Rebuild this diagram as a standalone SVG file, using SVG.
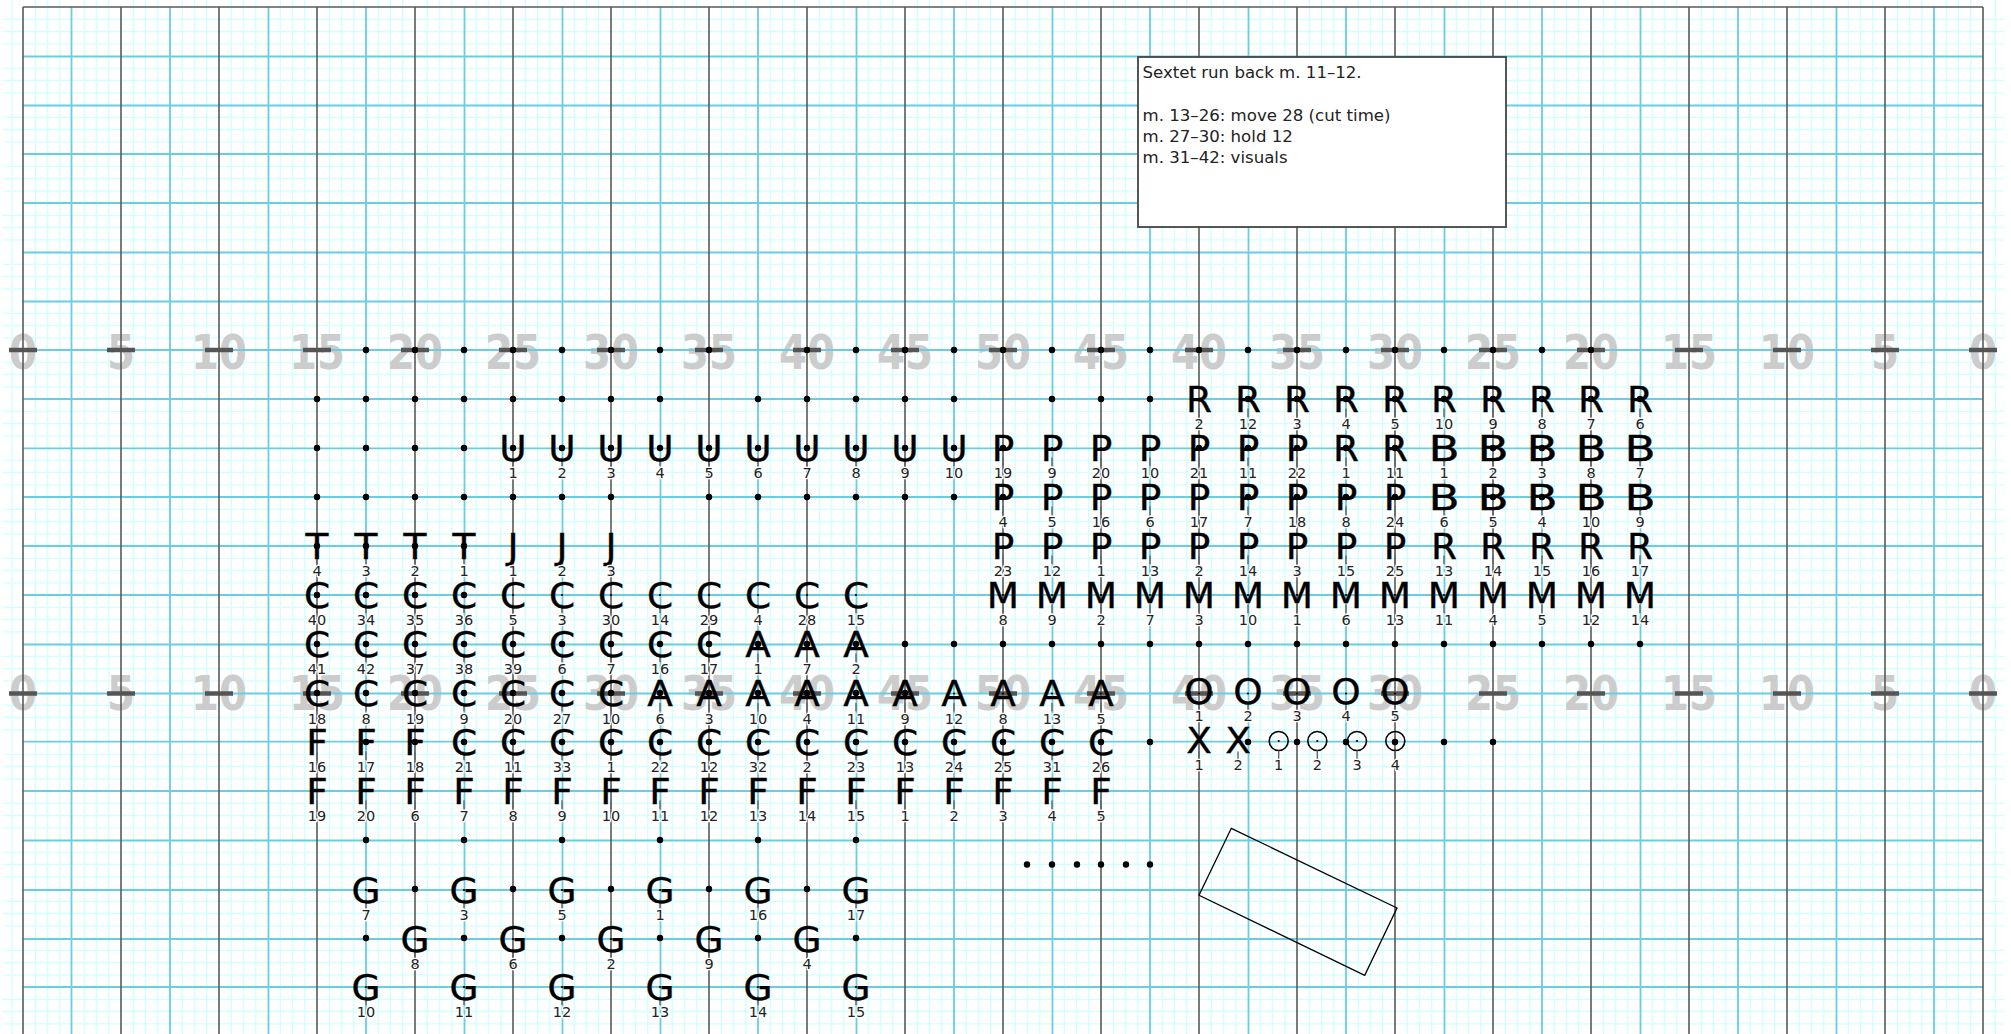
<svg xmlns="http://www.w3.org/2000/svg" width="2011" height="1034" viewBox="0 0 2011 1034">
<style>
text{font-family:"DejaVu Sans",sans-serif}
.y{font-weight:700;font-size:48px;fill:#ccc;text-anchor:middle}
.l{font-size:35px;fill:#000;text-anchor:middle;stroke:#000;stroke-width:.35px;transform:translateY(-.5px) scale(1.07,1)}
.b{transform:translateY(-.5px) scale(1.3,1)}
.n{font-size:14.5px;fill:#222;text-anchor:middle;stroke:#fff;stroke-width:2.5px;paint-order:stroke;transform:translateY(-.7px)}
.t{font-size:16.6px;fill:#222}
.dots{fill:none;stroke:#000;stroke-width:6.4;stroke-linecap:round}
.stub{stroke:#666;stroke-width:1.4}
</style>
<defs>
<g id="p"><path class="stub" d="M0 9.5V18"/><circle r="1.1" fill="#000"/></g>
</defs>
<rect width="2011" height="1034" fill="#fff"/>
<g id="grid" fill="none">
<path id="minor" stroke="#d2ffff" stroke-width="1.3" d="M3 19.3H2004M3 31.5H2004M3 43.8H2004M3 68.3H2004M3 80.5H2004M3 92.8H2004M3 117.3H2004M3 129.5H2004M3 141.8H2004M3 166.3H2004M3 178.5H2004M3 190.8H2004M3 215.3H2004M3 227.5H2004M3 239.8H2004M3 264.3H2004M3 276.5H2004M3 288.8H2004M3 313.3H2004M3 325.5H2004M3 337.8H2004M3 362.3H2004M3 374.5H2004M3 386.8H2004M3 411.3H2004M3 423.5H2004M3 435.8H2004M3 460.3H2004M3 472.5H2004M3 484.8H2004M3 509.3H2004M3 521.5H2004M3 533.8H2004M3 558.3H2004M3 570.5H2004M3 582.8H2004M3 607.3H2004M3 619.5H2004M3 631.8H2004M3 656.3H2004M3 668.5H2004M3 680.8H2004M3 705.3H2004M3 717.5H2004M3 729.8H2004M3 754.3H2004M3 766.5H2004M3 778.8H2004M3 803.3H2004M3 815.5H2004M3 827.8H2004M3 852.3H2004M3 864.5H2004M3 876.8H2004M3 901.3H2004M3 913.5H2004M3 925.8H2004M3 950.3H2004M3 962.5H2004M3 974.8H2004M3 999.3H2004M3 1011.5H2004M3 1023.8H2004M12 0V1034M35.3 0V1034M47.5 0V1034M59.8 0V1034M84.3 0V1034M96.5 0V1034M108.8 0V1034M133.3 0V1034M145.5 0V1034M157.8 0V1034M182.3 0V1034M194.5 0V1034M206.8 0V1034M231.3 0V1034M243.5 0V1034M255.8 0V1034M280.3 0V1034M292.5 0V1034M304.8 0V1034M329.3 0V1034M341.5 0V1034M353.8 0V1034M378.3 0V1034M390.5 0V1034M402.8 0V1034M427.3 0V1034M439.5 0V1034M451.8 0V1034M476.3 0V1034M488.5 0V1034M500.8 0V1034M525.3 0V1034M537.5 0V1034M549.8 0V1034M574.3 0V1034M586.5 0V1034M598.8 0V1034M623.3 0V1034M635.5 0V1034M647.8 0V1034M672.3 0V1034M684.5 0V1034M696.8 0V1034M721.3 0V1034M733.5 0V1034M745.8 0V1034M770.3 0V1034M782.5 0V1034M794.8 0V1034M819.3 0V1034M831.5 0V1034M843.8 0V1034M868.3 0V1034M880.5 0V1034M892.8 0V1034M917.3 0V1034M929.5 0V1034M941.8 0V1034M966.3 0V1034M978.5 0V1034M990.8 0V1034M1015.3 0V1034M1027.5 0V1034M1039.8 0V1034M1064.3 0V1034M1076.5 0V1034M1088.8 0V1034M1113.3 0V1034M1125.5 0V1034M1137.8 0V1034M1162.3 0V1034M1174.5 0V1034M1186.8 0V1034M1211.3 0V1034M1223.5 0V1034M1235.8 0V1034M1260.3 0V1034M1272.5 0V1034M1284.8 0V1034M1309.3 0V1034M1321.5 0V1034M1333.8 0V1034M1358.3 0V1034M1370.5 0V1034M1382.8 0V1034M1407.3 0V1034M1419.5 0V1034M1431.8 0V1034M1456.3 0V1034M1468.5 0V1034M1480.8 0V1034M1505.3 0V1034M1517.5 0V1034M1529.8 0V1034M1554.3 0V1034M1566.5 0V1034M1578.8 0V1034M1603.3 0V1034M1615.5 0V1034M1627.8 0V1034M1652.3 0V1034M1664.5 0V1034M1676.8 0V1034M1701.3 0V1034M1713.5 0V1034M1725.8 0V1034M1750.3 0V1034M1762.5 0V1034M1774.8 0V1034M1799.3 0V1034M1811.5 0V1034M1823.8 0V1034M1848.3 0V1034M1860.5 0V1034M1872.8 0V1034M1897.3 0V1034M1909.5 0V1034M1921.8 0V1034M1946.3 0V1034M1958.5 0V1034M1970.8 0V1034M1995.3 0V1034"/>
<g id="yards" transform="scale(.84,1)">
<text class="y" x="27.38" y="369.5">0</text><text class="y" x="144.05" y="369.5">5</text><text class="y" x="260.71" y="369.5">10</text><text class="y" x="377.38" y="369.5">15</text><text class="y" x="494.05" y="369.5">20</text><text class="y" x="610.71" y="369.5">25</text><text class="y" x="727.38" y="369.5">30</text><text class="y" x="844.05" y="369.5">35</text><text class="y" x="960.71" y="369.5">40</text><text class="y" x="1077.38" y="369.5">45</text><text class="y" x="1194.05" y="369.5">50</text><text class="y" x="1310.71" y="369.5">45</text><text class="y" x="1427.38" y="369.5">40</text><text class="y" x="1544.05" y="369.5">35</text><text class="y" x="1660.71" y="369.5">30</text><text class="y" x="1777.38" y="369.5">25</text><text class="y" x="1894.05" y="369.5">20</text><text class="y" x="2010.71" y="369.5">15</text><text class="y" x="2127.38" y="369.5">10</text><text class="y" x="2244.05" y="369.5">5</text><text class="y" x="2360.71" y="369.5">0</text>
<text class="y" x="27.38" y="710.5">0</text><text class="y" x="144.05" y="710.5">5</text><text class="y" x="260.71" y="710.5">10</text><text class="y" x="377.38" y="710.5">15</text><text class="y" x="494.05" y="710.5">20</text><text class="y" x="610.71" y="710.5">25</text><text class="y" x="727.38" y="710.5">30</text><text class="y" x="844.05" y="710.5">35</text><text class="y" x="960.71" y="710.5">40</text><text class="y" x="1077.38" y="710.5">45</text><text class="y" x="1194.05" y="710.5">50</text><text class="y" x="1310.71" y="710.5">45</text><text class="y" x="1427.38" y="710.5">40</text><text class="y" x="1544.05" y="710.5">35</text><text class="y" x="1660.71" y="710.5">30</text><text class="y" x="1777.38" y="710.5">25</text><text class="y" x="1894.05" y="710.5">20</text><text class="y" x="2010.71" y="710.5">15</text><text class="y" x="2127.38" y="710.5">10</text><text class="y" x="2244.05" y="710.5">5</text><text class="y" x="2360.71" y="710.5">0</text>
</g>
<path id="blue" stroke="#69cde4" stroke-width="1.8" d="M23 56.5H1983M23 105.5H1983M23 154H1983M23 203H1983M23 252.5H1983M23 301.5H1983M23 350H1983M23 399H1983M23 448.3H1983M23 497H1983M23 546H1983M23 595H1983M23 644.5H1983M23 693.5H1983M23 741.7H1983M23 791H1983M23 840.5H1983M23 890H1983M23 939H1983M23 987H1983M71.5 7V1034M170 7V1034M268.5 7V1034M366 7V1034M464.5 7V1034M562.5 7V1034M660.5 7V1034M758 7V1034M856.5 7V1034M954 7V1034M1052.5 7V1034M1150 7V1034M1248.5 7V1034M1346 7V1034M1444.5 7V1034M1542 7V1034M1640.5 7V1034M1738 7V1034M1836.5 7V1034M1934 7V1034"/>
<path id="major" stroke="#5a5a5a" stroke-width="1.6" d="M23 7H1983M23 7V1034M121 7V1034M219 7V1034M317 7V1034M415 7V1034M513 7V1034M611 7V1034M709 7V1034M807 7V1034M905 7V1034M1003 7V1034M1101 7V1034M1199 7V1034M1297 7V1034M1395 7V1034M1493 7V1034M1591 7V1034M1689 7V1034M1787 7V1034M1885 7V1034M1983 7V1034"/>
<path id="ticks" stroke="#555" stroke-width="4.4" d="M9 350H37M107 350H135M205 350H233M303 350H331M401 350H429M499 350H527M597 350H625M695 350H723M793 350H821M891 350H919M989 350H1017M1087 350H1115M1185 350H1213M1283 350H1311M1381 350H1409M1479 350H1507M1577 350H1605M1675 350H1703M1773 350H1801M1871 350H1899M1969 350H1997M9 693.5H37M107 693.5H135M205 693.5H233M303 693.5H331M401 693.5H429M499 693.5H527M597 693.5H625M695 693.5H723M793 693.5H821M891 693.5H919M989 693.5H1017M1087 693.5H1115M1185 693.5H1213M1283 693.5H1311M1381 693.5H1409M1479 693.5H1507M1577 693.5H1605M1675 693.5H1703M1773 693.5H1801M1871 693.5H1899M1969 693.5H1997"/>
</g>
<g id="note">
<rect x="1138" y="57" width="368" height="170" fill="#fff" stroke="#444" stroke-width="1.8"/>
<text class="t" x="1142.5" y="78">Sextet run back m. 11–12.</text>
<text class="t" x="1142.5" y="121">m. 13–26: move 28 (cut time)</text>
<text class="t" x="1142.5" y="142">m. 27–30: hold 12</text>
<text class="t" x="1142.5" y="163">m. 31–42: visuals</text>
</g>
<path id="dots" class="dots" d="M366 350h0M415 350h0M464 350h0M513 350h0M562 350h0M611 350h0M660 350h0M709 350h0M807 350h0M856 350h0M905 350h0M954 350h0M1003 350h0M1052 350h0M1101 350h0M1150 350h0M1199 350h0M1248 350h0M1297 350h0M1346 350h0M1395 350h0M1444 350h0M1493 350h0M1542 350h0M1591 350h0
M317 399h0M366 399h0M415 399h0M464 399h0M513 399h0M562 399h0M611 399h0M660 399h0M758 399h0M807 399h0M856 399h0M905 399h0M954 399h0M1052 399h0M1101 399h0M1150 399h0M1248 399h0M1297 399h0M1346 399h0M1395 399h0M1444 399h0M1493 399h0M1542 399h0M1591 399h0M1640 399h0
M317 448h0M366 448h0M415 448h0M464 448h0M513 448h0M562 448h0M611 448h0M660 448h0M709 448h0M758 448h0M807 448h0M856 448h0M905 448h0M954 448h0M1003 448h0M1199 448h0M1248 448h0M1297 448h0M1346 448h0M1395 448h0M1493 448h0M1542 448h0
M317 497h0M366 497h0M415 497h0M464 497h0M513 497h0M562 497h0M611 497h0M709 497h0M758 497h0M807 497h0M856 497h0M905 497h0M954 497h0M1003 497h0M1248 497h0M1297 497h0M1346 497h0M1395 497h0M1493 497h0M1542 497h0
M317 546h0M366 546h0M415 546h0M464 546h0
M317 595h0M366 595h0M415 595h0M464 595h0
M317 644h0M366 644h0M415 644h0M464 644h0M513 644h0M562 644h0M611 644h0M660 644h0M709 644h0M758 644h0M807 644h0M856 644h0M905 644h0M954 644h0M1003 644h0M1052 644h0M1101 644h0M1150 644h0M1199 644h0M1248 644h0M1297 644h0M1346 644h0M1395 644h0M1444 644h0M1493 644h0M1542 644h0M1591 644h0M1640 644h0
M317 693h0M366 693h0M415 693h0M464 693h0M513 693h0M562 693h0M611 693h0M660 693h0M709 693h0M758 693h0M807 693h0M856 693h0M905 693h0
M366 742h0M415 742h0M464 742h0M513 742h0M562 742h0M611 742h0M660 742h0M709 742h0M758 742h0M807 742h0M856 742h0M905 742h0M954 742h0M1003 742h0M1052 742h0M1101 742h0M1150 742h0M1248 742h0M1297 742h0M1346 742h0M1395 742h0M1444 742h0M1493 742h0
M366 840h0M464 840h0M562 840h0M660 840h0M758 840h0M856 840h0
M415 889h0M513 889h0M611 889h0M709 889h0M807 889h0
M366 938h0M464 938h0M562 938h0M660 938h0M758 938h0M856 938h0
M1027 864.5h0M1052 864.5h0M1077 864.5h0M1101 864.5h0M1126 864.5h0M1150 864.5h0"/>
<polygon id="rect" points="1231.3,828.3 1397,908 1364.7,975.3 1199,895.3" fill="none" stroke="#000" stroke-width="1.3"/>
<g id="performers">
<g id="R2" transform="translate(1199,399)"><use href="#p"/><text class="l" y="13">R</text><text class="n" y="31">2</text></g>
<g id="R12" transform="translate(1248,399)"><use href="#p"/><text class="l" y="13">R</text><text class="n" y="31">12</text></g>
<g id="R3" transform="translate(1297,399)"><use href="#p"/><text class="l" y="13">R</text><text class="n" y="31">3</text></g>
<g id="R4" transform="translate(1346,399)"><use href="#p"/><text class="l" y="13">R</text><text class="n" y="31">4</text></g>
<g id="R5" transform="translate(1395,399)"><use href="#p"/><text class="l" y="13">R</text><text class="n" y="31">5</text></g>
<g id="R10" transform="translate(1444,399)"><use href="#p"/><text class="l" y="13">R</text><text class="n" y="31">10</text></g>
<g id="R9" transform="translate(1493,399)"><use href="#p"/><text class="l" y="13">R</text><text class="n" y="31">9</text></g>
<g id="R8" transform="translate(1542,399)"><use href="#p"/><text class="l" y="13">R</text><text class="n" y="31">8</text></g>
<g id="R7" transform="translate(1591,399)"><use href="#p"/><text class="l" y="13">R</text><text class="n" y="31">7</text></g>
<g id="R6" transform="translate(1640,399)"><use href="#p"/><text class="l" y="13">R</text><text class="n" y="31">6</text></g>
<g id="U1" transform="translate(513,448)"><use href="#p"/><text class="l" y="13">U</text><text class="n" y="31">1</text></g>
<g id="U2" transform="translate(562,448)"><use href="#p"/><text class="l" y="13">U</text><text class="n" y="31">2</text></g>
<g id="U3" transform="translate(611,448)"><use href="#p"/><text class="l" y="13">U</text><text class="n" y="31">3</text></g>
<g id="U4" transform="translate(660,448)"><use href="#p"/><text class="l" y="13">U</text><text class="n" y="31">4</text></g>
<g id="U5" transform="translate(709,448)"><use href="#p"/><text class="l" y="13">U</text><text class="n" y="31">5</text></g>
<g id="U6" transform="translate(758,448)"><use href="#p"/><text class="l" y="13">U</text><text class="n" y="31">6</text></g>
<g id="U7" transform="translate(807,448)"><use href="#p"/><text class="l" y="13">U</text><text class="n" y="31">7</text></g>
<g id="U8" transform="translate(856,448)"><use href="#p"/><text class="l" y="13">U</text><text class="n" y="31">8</text></g>
<g id="U9" transform="translate(905,448)"><use href="#p"/><text class="l" y="13">U</text><text class="n" y="31">9</text></g>
<g id="U10" transform="translate(954,448)"><use href="#p"/><text class="l" y="13">U</text><text class="n" y="31">10</text></g>
<g id="P19" transform="translate(1003,448)"><use href="#p"/><text class="l" y="13">P</text><text class="n" y="31">19</text></g>
<g id="P9" transform="translate(1052,448)"><use href="#p"/><text class="l" y="13">P</text><text class="n" y="31">9</text></g>
<g id="P20" transform="translate(1101,448)"><use href="#p"/><text class="l" y="13">P</text><text class="n" y="31">20</text></g>
<g id="P10" transform="translate(1150,448)"><use href="#p"/><text class="l" y="13">P</text><text class="n" y="31">10</text></g>
<g id="P21" transform="translate(1199,448)"><use href="#p"/><text class="l" y="13">P</text><text class="n" y="31">21</text></g>
<g id="P11" transform="translate(1248,448)"><use href="#p"/><text class="l" y="13">P</text><text class="n" y="31">11</text></g>
<g id="P22" transform="translate(1297,448)"><use href="#p"/><text class="l" y="13">P</text><text class="n" y="31">22</text></g>
<g id="R1" transform="translate(1346,448)"><use href="#p"/><text class="l" y="13">R</text><text class="n" y="31">1</text></g>
<g id="R11" transform="translate(1395,448)"><use href="#p"/><text class="l" y="13">R</text><text class="n" y="31">11</text></g>
<g id="B1" transform="translate(1444,448)"><use href="#p"/><text class="l b" y="13">B</text><text class="n" y="31">1</text></g>
<g id="B2" transform="translate(1493,448)"><use href="#p"/><text class="l b" y="13">B</text><text class="n" y="31">2</text></g>
<g id="B3" transform="translate(1542,448)"><use href="#p"/><text class="l b" y="13">B</text><text class="n" y="31">3</text></g>
<g id="B8" transform="translate(1591,448)"><use href="#p"/><text class="l b" y="13">B</text><text class="n" y="31">8</text></g>
<g id="B7" transform="translate(1640,448)"><use href="#p"/><text class="l b" y="13">B</text><text class="n" y="31">7</text></g>
<g id="P4" transform="translate(1003,497)"><use href="#p"/><text class="l" y="13">P</text><text class="n" y="31">4</text></g>
<g id="P5" transform="translate(1052,497)"><use href="#p"/><text class="l" y="13">P</text><text class="n" y="31">5</text></g>
<g id="P16" transform="translate(1101,497)"><use href="#p"/><text class="l" y="13">P</text><text class="n" y="31">16</text></g>
<g id="P6" transform="translate(1150,497)"><use href="#p"/><text class="l" y="13">P</text><text class="n" y="31">6</text></g>
<g id="P17" transform="translate(1199,497)"><use href="#p"/><text class="l" y="13">P</text><text class="n" y="31">17</text></g>
<g id="P7" transform="translate(1248,497)"><use href="#p"/><text class="l" y="13">P</text><text class="n" y="31">7</text></g>
<g id="P18" transform="translate(1297,497)"><use href="#p"/><text class="l" y="13">P</text><text class="n" y="31">18</text></g>
<g id="P8" transform="translate(1346,497)"><use href="#p"/><text class="l" y="13">P</text><text class="n" y="31">8</text></g>
<g id="P24" transform="translate(1395,497)"><use href="#p"/><text class="l" y="13">P</text><text class="n" y="31">24</text></g>
<g id="B6" transform="translate(1444,497)"><use href="#p"/><text class="l b" y="13">B</text><text class="n" y="31">6</text></g>
<g id="B5" transform="translate(1493,497)"><use href="#p"/><text class="l b" y="13">B</text><text class="n" y="31">5</text></g>
<g id="B4" transform="translate(1542,497)"><use href="#p"/><text class="l b" y="13">B</text><text class="n" y="31">4</text></g>
<g id="B10" transform="translate(1591,497)"><use href="#p"/><text class="l b" y="13">B</text><text class="n" y="31">10</text></g>
<g id="B9" transform="translate(1640,497)"><use href="#p"/><text class="l b" y="13">B</text><text class="n" y="31">9</text></g>
<g id="T4" transform="translate(317,546)"><use href="#p"/><text class="l" y="13">T</text><text class="n" y="31">4</text></g>
<g id="T3" transform="translate(366,546)"><use href="#p"/><text class="l" y="13">T</text><text class="n" y="31">3</text></g>
<g id="T2" transform="translate(415,546)"><use href="#p"/><text class="l" y="13">T</text><text class="n" y="31">2</text></g>
<g id="T1" transform="translate(464,546)"><use href="#p"/><text class="l" y="13">T</text><text class="n" y="31">1</text></g>
<g id="J1" transform="translate(513,546)"><use href="#p"/><text class="l" y="13">J</text><text class="n" y="31">1</text></g>
<g id="J2" transform="translate(562,546)"><use href="#p"/><text class="l" y="13">J</text><text class="n" y="31">2</text></g>
<g id="J3" transform="translate(611,546)"><use href="#p"/><text class="l" y="13">J</text><text class="n" y="31">3</text></g>
<g id="P23" transform="translate(1003,546)"><use href="#p"/><text class="l" y="13">P</text><text class="n" y="31">23</text></g>
<g id="P12" transform="translate(1052,546)"><use href="#p"/><text class="l" y="13">P</text><text class="n" y="31">12</text></g>
<g id="P1" transform="translate(1101,546)"><use href="#p"/><text class="l" y="13">P</text><text class="n" y="31">1</text></g>
<g id="P13" transform="translate(1150,546)"><use href="#p"/><text class="l" y="13">P</text><text class="n" y="31">13</text></g>
<g id="P2" transform="translate(1199,546)"><use href="#p"/><text class="l" y="13">P</text><text class="n" y="31">2</text></g>
<g id="P14" transform="translate(1248,546)"><use href="#p"/><text class="l" y="13">P</text><text class="n" y="31">14</text></g>
<g id="P3" transform="translate(1297,546)"><use href="#p"/><text class="l" y="13">P</text><text class="n" y="31">3</text></g>
<g id="P15" transform="translate(1346,546)"><use href="#p"/><text class="l" y="13">P</text><text class="n" y="31">15</text></g>
<g id="P25" transform="translate(1395,546)"><use href="#p"/><text class="l" y="13">P</text><text class="n" y="31">25</text></g>
<g id="R13" transform="translate(1444,546)"><use href="#p"/><text class="l" y="13">R</text><text class="n" y="31">13</text></g>
<g id="R14" transform="translate(1493,546)"><use href="#p"/><text class="l" y="13">R</text><text class="n" y="31">14</text></g>
<g id="R15" transform="translate(1542,546)"><use href="#p"/><text class="l" y="13">R</text><text class="n" y="31">15</text></g>
<g id="R16" transform="translate(1591,546)"><use href="#p"/><text class="l" y="13">R</text><text class="n" y="31">16</text></g>
<g id="R17" transform="translate(1640,546)"><use href="#p"/><text class="l" y="13">R</text><text class="n" y="31">17</text></g>
<g id="C40" transform="translate(317,595)"><use href="#p"/><text class="l" y="13">C</text><text class="n" y="31">40</text></g>
<g id="C34" transform="translate(366,595)"><use href="#p"/><text class="l" y="13">C</text><text class="n" y="31">34</text></g>
<g id="C35" transform="translate(415,595)"><use href="#p"/><text class="l" y="13">C</text><text class="n" y="31">35</text></g>
<g id="C36" transform="translate(464,595)"><use href="#p"/><text class="l" y="13">C</text><text class="n" y="31">36</text></g>
<g id="C5" transform="translate(513,595)"><use href="#p"/><text class="l" y="13">C</text><text class="n" y="31">5</text></g>
<g id="C3" transform="translate(562,595)"><use href="#p"/><text class="l" y="13">C</text><text class="n" y="31">3</text></g>
<g id="C30" transform="translate(611,595)"><use href="#p"/><text class="l" y="13">C</text><text class="n" y="31">30</text></g>
<g id="C14" transform="translate(660,595)"><use href="#p"/><text class="l" y="13">C</text><text class="n" y="31">14</text></g>
<g id="C29" transform="translate(709,595)"><use href="#p"/><text class="l" y="13">C</text><text class="n" y="31">29</text></g>
<g id="C4" transform="translate(758,595)"><use href="#p"/><text class="l" y="13">C</text><text class="n" y="31">4</text></g>
<g id="C28" transform="translate(807,595)"><use href="#p"/><text class="l" y="13">C</text><text class="n" y="31">28</text></g>
<g id="C15" transform="translate(856,595)"><use href="#p"/><text class="l" y="13">C</text><text class="n" y="31">15</text></g>
<g id="M8" transform="translate(1003,595)"><use href="#p"/><text class="l" y="13">M</text><text class="n" y="31">8</text></g>
<g id="M9" transform="translate(1052,595)"><use href="#p"/><text class="l" y="13">M</text><text class="n" y="31">9</text></g>
<g id="M2" transform="translate(1101,595)"><use href="#p"/><text class="l" y="13">M</text><text class="n" y="31">2</text></g>
<g id="M7" transform="translate(1150,595)"><use href="#p"/><text class="l" y="13">M</text><text class="n" y="31">7</text></g>
<g id="M3" transform="translate(1199,595)"><use href="#p"/><text class="l" y="13">M</text><text class="n" y="31">3</text></g>
<g id="M10" transform="translate(1248,595)"><use href="#p"/><text class="l" y="13">M</text><text class="n" y="31">10</text></g>
<g id="M1" transform="translate(1297,595)"><use href="#p"/><text class="l" y="13">M</text><text class="n" y="31">1</text></g>
<g id="M6" transform="translate(1346,595)"><use href="#p"/><text class="l" y="13">M</text><text class="n" y="31">6</text></g>
<g id="M13" transform="translate(1395,595)"><use href="#p"/><text class="l" y="13">M</text><text class="n" y="31">13</text></g>
<g id="M11" transform="translate(1444,595)"><use href="#p"/><text class="l" y="13">M</text><text class="n" y="31">11</text></g>
<g id="M4" transform="translate(1493,595)"><use href="#p"/><text class="l" y="13">M</text><text class="n" y="31">4</text></g>
<g id="M5" transform="translate(1542,595)"><use href="#p"/><text class="l" y="13">M</text><text class="n" y="31">5</text></g>
<g id="M12" transform="translate(1591,595)"><use href="#p"/><text class="l" y="13">M</text><text class="n" y="31">12</text></g>
<g id="M14" transform="translate(1640,595)"><use href="#p"/><text class="l" y="13">M</text><text class="n" y="31">14</text></g>
<g id="C41" transform="translate(317,644)"><use href="#p"/><text class="l" y="13">C</text><text class="n" y="31">41</text></g>
<g id="C42" transform="translate(366,644)"><use href="#p"/><text class="l" y="13">C</text><text class="n" y="31">42</text></g>
<g id="C37" transform="translate(415,644)"><use href="#p"/><text class="l" y="13">C</text><text class="n" y="31">37</text></g>
<g id="C38" transform="translate(464,644)"><use href="#p"/><text class="l" y="13">C</text><text class="n" y="31">38</text></g>
<g id="C39" transform="translate(513,644)"><use href="#p"/><text class="l" y="13">C</text><text class="n" y="31">39</text></g>
<g id="C6" transform="translate(562,644)"><use href="#p"/><text class="l" y="13">C</text><text class="n" y="31">6</text></g>
<g id="C7" transform="translate(611,644)"><use href="#p"/><text class="l" y="13">C</text><text class="n" y="31">7</text></g>
<g id="C16" transform="translate(660,644)"><use href="#p"/><text class="l" y="13">C</text><text class="n" y="31">16</text></g>
<g id="C17" transform="translate(709,644)"><use href="#p"/><text class="l" y="13">C</text><text class="n" y="31">17</text></g>
<g id="A1" transform="translate(758,644)"><use href="#p"/><text class="l" y="13">A</text><text class="n" y="31">1</text></g>
<g id="A7" transform="translate(807,644)"><use href="#p"/><text class="l" y="13">A</text><text class="n" y="31">7</text></g>
<g id="A2" transform="translate(856,644)"><use href="#p"/><text class="l" y="13">A</text><text class="n" y="31">2</text></g>
<g id="C18" transform="translate(317,693.5)"><use href="#p"/><text class="l" y="13">C</text><text class="n" y="31">18</text></g>
<g id="C8" transform="translate(366,693.5)"><use href="#p"/><text class="l" y="13">C</text><text class="n" y="31">8</text></g>
<g id="C19" transform="translate(415,693.5)"><use href="#p"/><text class="l" y="13">C</text><text class="n" y="31">19</text></g>
<g id="C9" transform="translate(464,693.5)"><use href="#p"/><text class="l" y="13">C</text><text class="n" y="31">9</text></g>
<g id="C20" transform="translate(513,693.5)"><use href="#p"/><text class="l" y="13">C</text><text class="n" y="31">20</text></g>
<g id="C27" transform="translate(562,693.5)"><use href="#p"/><text class="l" y="13">C</text><text class="n" y="31">27</text></g>
<g id="C10" transform="translate(611,693.5)"><use href="#p"/><text class="l" y="13">C</text><text class="n" y="31">10</text></g>
<g id="A6" transform="translate(660,693.5)"><use href="#p"/><text class="l" y="13">A</text><text class="n" y="31">6</text></g>
<g id="A3" transform="translate(709,693.5)"><use href="#p"/><text class="l" y="13">A</text><text class="n" y="31">3</text></g>
<g id="A10" transform="translate(758,693.5)"><use href="#p"/><text class="l" y="13">A</text><text class="n" y="31">10</text></g>
<g id="A4" transform="translate(807,693.5)"><use href="#p"/><text class="l" y="13">A</text><text class="n" y="31">4</text></g>
<g id="A11" transform="translate(856,693.5)"><use href="#p"/><text class="l" y="13">A</text><text class="n" y="31">11</text></g>
<g id="A9" transform="translate(905,693.5)"><use href="#p"/><text class="l" y="13">A</text><text class="n" y="31">9</text></g>
<g id="A12" transform="translate(954,693.5)"><use href="#p"/><text class="l" y="13">A</text><text class="n" y="31">12</text></g>
<g id="A8" transform="translate(1003,693.5)"><use href="#p"/><text class="l" y="13">A</text><text class="n" y="31">8</text></g>
<g id="A13" transform="translate(1052,693.5)"><use href="#p"/><text class="l" y="13">A</text><text class="n" y="31">13</text></g>
<g id="A5" transform="translate(1101,693.5)"><use href="#p"/><text class="l" y="13">A</text><text class="n" y="31">5</text></g>
<g id="O1" transform="translate(1199,693.5)"><use href="#p"/><text class="l" y="10.5">O</text><text class="n" y="28.5">1</text></g>
<g id="O2" transform="translate(1248,693.5)"><use href="#p"/><text class="l" y="10.5">O</text><text class="n" y="28.5">2</text></g>
<g id="O3" transform="translate(1297,693.5)"><use href="#p"/><text class="l" y="10.5">O</text><text class="n" y="28.5">3</text></g>
<g id="O4" transform="translate(1346,693.5)"><use href="#p"/><text class="l" y="10.5">O</text><text class="n" y="28.5">4</text></g>
<g id="O5" transform="translate(1395,693.5)"><use href="#p"/><text class="l" y="10.5">O</text><text class="n" y="28.5">5</text></g>
<g id="F16" transform="translate(317,742)"><use href="#p"/><text class="l" y="13">F</text><text class="n" y="31">16</text></g>
<g id="F17" transform="translate(366,742)"><use href="#p"/><text class="l" y="13">F</text><text class="n" y="31">17</text></g>
<g id="F18" transform="translate(415,742)"><use href="#p"/><text class="l" y="13">F</text><text class="n" y="31">18</text></g>
<g id="C21" transform="translate(464,742)"><use href="#p"/><text class="l" y="13">C</text><text class="n" y="31">21</text></g>
<g id="C11" transform="translate(513,742)"><use href="#p"/><text class="l" y="13">C</text><text class="n" y="31">11</text></g>
<g id="C33" transform="translate(562,742)"><use href="#p"/><text class="l" y="13">C</text><text class="n" y="31">33</text></g>
<g id="C1" transform="translate(611,742)"><use href="#p"/><text class="l" y="13">C</text><text class="n" y="31">1</text></g>
<g id="C22" transform="translate(660,742)"><use href="#p"/><text class="l" y="13">C</text><text class="n" y="31">22</text></g>
<g id="C12" transform="translate(709,742)"><use href="#p"/><text class="l" y="13">C</text><text class="n" y="31">12</text></g>
<g id="C32" transform="translate(758,742)"><use href="#p"/><text class="l" y="13">C</text><text class="n" y="31">32</text></g>
<g id="C2" transform="translate(807,742)"><use href="#p"/><text class="l" y="13">C</text><text class="n" y="31">2</text></g>
<g id="C23" transform="translate(856,742)"><use href="#p"/><text class="l" y="13">C</text><text class="n" y="31">23</text></g>
<g id="C13" transform="translate(905,742)"><use href="#p"/><text class="l" y="13">C</text><text class="n" y="31">13</text></g>
<g id="C24" transform="translate(954,742)"><use href="#p"/><text class="l" y="13">C</text><text class="n" y="31">24</text></g>
<g id="C25" transform="translate(1003,742)"><use href="#p"/><text class="l" y="13">C</text><text class="n" y="31">25</text></g>
<g id="C31" transform="translate(1052,742)"><use href="#p"/><text class="l" y="13">C</text><text class="n" y="31">31</text></g>
<g id="C26" transform="translate(1101,742)"><use href="#p"/><text class="l" y="13">C</text><text class="n" y="31">26</text></g>
<g id="X1" transform="translate(1199,742)"><use href="#p"/><text class="l" y="11.5">X</text><text class="n" y="29">1</text></g>
<g id="X2" transform="translate(1238,742)"><use href="#p"/><text class="l" y="11.5">X</text><text class="n" y="29">2</text></g>
<g id="Z1" transform="translate(1278.7,741)"><circle r="9.5" fill="none" stroke="#000" stroke-width="1.6"/><use href="#p"/><text class="n" y="30">1</text></g>
<g id="Z2" transform="translate(1317.3,741)"><circle r="9.5" fill="none" stroke="#000" stroke-width="1.6"/><use href="#p"/><text class="n" y="30">2</text></g>
<g id="Z3" transform="translate(1357,741)"><circle r="9.5" fill="none" stroke="#000" stroke-width="1.6"/><use href="#p"/><text class="n" y="30">3</text></g>
<g id="Z4" transform="translate(1395.3,741)"><circle r="9.5" fill="none" stroke="#000" stroke-width="1.6"/><use href="#p"/><text class="n" y="30">4</text></g>
<g id="F19" transform="translate(317,791)"><use href="#p"/><text class="l" y="13">F</text><text class="n" y="31">19</text></g>
<g id="F20" transform="translate(366,791)"><use href="#p"/><text class="l" y="13">F</text><text class="n" y="31">20</text></g>
<g id="F6" transform="translate(415,791)"><use href="#p"/><text class="l" y="13">F</text><text class="n" y="31">6</text></g>
<g id="F7" transform="translate(464,791)"><use href="#p"/><text class="l" y="13">F</text><text class="n" y="31">7</text></g>
<g id="F8" transform="translate(513,791)"><use href="#p"/><text class="l" y="13">F</text><text class="n" y="31">8</text></g>
<g id="F9" transform="translate(562,791)"><use href="#p"/><text class="l" y="13">F</text><text class="n" y="31">9</text></g>
<g id="F10" transform="translate(611,791)"><use href="#p"/><text class="l" y="13">F</text><text class="n" y="31">10</text></g>
<g id="F11" transform="translate(660,791)"><use href="#p"/><text class="l" y="13">F</text><text class="n" y="31">11</text></g>
<g id="F12" transform="translate(709,791)"><use href="#p"/><text class="l" y="13">F</text><text class="n" y="31">12</text></g>
<g id="F13" transform="translate(758,791)"><use href="#p"/><text class="l" y="13">F</text><text class="n" y="31">13</text></g>
<g id="F14" transform="translate(807,791)"><use href="#p"/><text class="l" y="13">F</text><text class="n" y="31">14</text></g>
<g id="F15" transform="translate(856,791)"><use href="#p"/><text class="l" y="13">F</text><text class="n" y="31">15</text></g>
<g id="F1" transform="translate(905,791)"><use href="#p"/><text class="l" y="13">F</text><text class="n" y="31">1</text></g>
<g id="F2" transform="translate(954,791)"><use href="#p"/><text class="l" y="13">F</text><text class="n" y="31">2</text></g>
<g id="F3" transform="translate(1003,791)"><use href="#p"/><text class="l" y="13">F</text><text class="n" y="31">3</text></g>
<g id="F4" transform="translate(1052,791)"><use href="#p"/><text class="l" y="13">F</text><text class="n" y="31">4</text></g>
<g id="F5" transform="translate(1101,791)"><use href="#p"/><text class="l" y="13">F</text><text class="n" y="31">5</text></g>
<g id="G7" transform="translate(366,890)"><use href="#p"/><text class="l" y="13">G</text><text class="n" y="31">7</text></g>
<g id="G3" transform="translate(464,890)"><use href="#p"/><text class="l" y="13">G</text><text class="n" y="31">3</text></g>
<g id="G5" transform="translate(562,890)"><use href="#p"/><text class="l" y="13">G</text><text class="n" y="31">5</text></g>
<g id="G1" transform="translate(660,890)"><use href="#p"/><text class="l" y="13">G</text><text class="n" y="31">1</text></g>
<g id="G16" transform="translate(758,890)"><use href="#p"/><text class="l" y="13">G</text><text class="n" y="31">16</text></g>
<g id="G17" transform="translate(856,890)"><use href="#p"/><text class="l" y="13">G</text><text class="n" y="31">17</text></g>
<g id="G8" transform="translate(415,939)"><use href="#p"/><text class="l" y="13">G</text><text class="n" y="31">8</text></g>
<g id="G6" transform="translate(513,939)"><use href="#p"/><text class="l" y="13">G</text><text class="n" y="31">6</text></g>
<g id="G2" transform="translate(611,939)"><use href="#p"/><text class="l" y="13">G</text><text class="n" y="31">2</text></g>
<g id="G9" transform="translate(709,939)"><use href="#p"/><text class="l" y="13">G</text><text class="n" y="31">9</text></g>
<g id="G4" transform="translate(807,939)"><use href="#p"/><text class="l" y="13">G</text><text class="n" y="31">4</text></g>
<g id="G10" transform="translate(366,987)"><use href="#p"/><text class="l" y="13">G</text><text class="n" y="31">10</text></g>
<g id="G11" transform="translate(464,987)"><use href="#p"/><text class="l" y="13">G</text><text class="n" y="31">11</text></g>
<g id="G12" transform="translate(562,987)"><use href="#p"/><text class="l" y="13">G</text><text class="n" y="31">12</text></g>
<g id="G13" transform="translate(660,987)"><use href="#p"/><text class="l" y="13">G</text><text class="n" y="31">13</text></g>
<g id="G14" transform="translate(758,987)"><use href="#p"/><text class="l" y="13">G</text><text class="n" y="31">14</text></g>
<g id="G15" transform="translate(856,987)"><use href="#p"/><text class="l" y="13">G</text><text class="n" y="31">15</text></g>
</g>
</svg>
